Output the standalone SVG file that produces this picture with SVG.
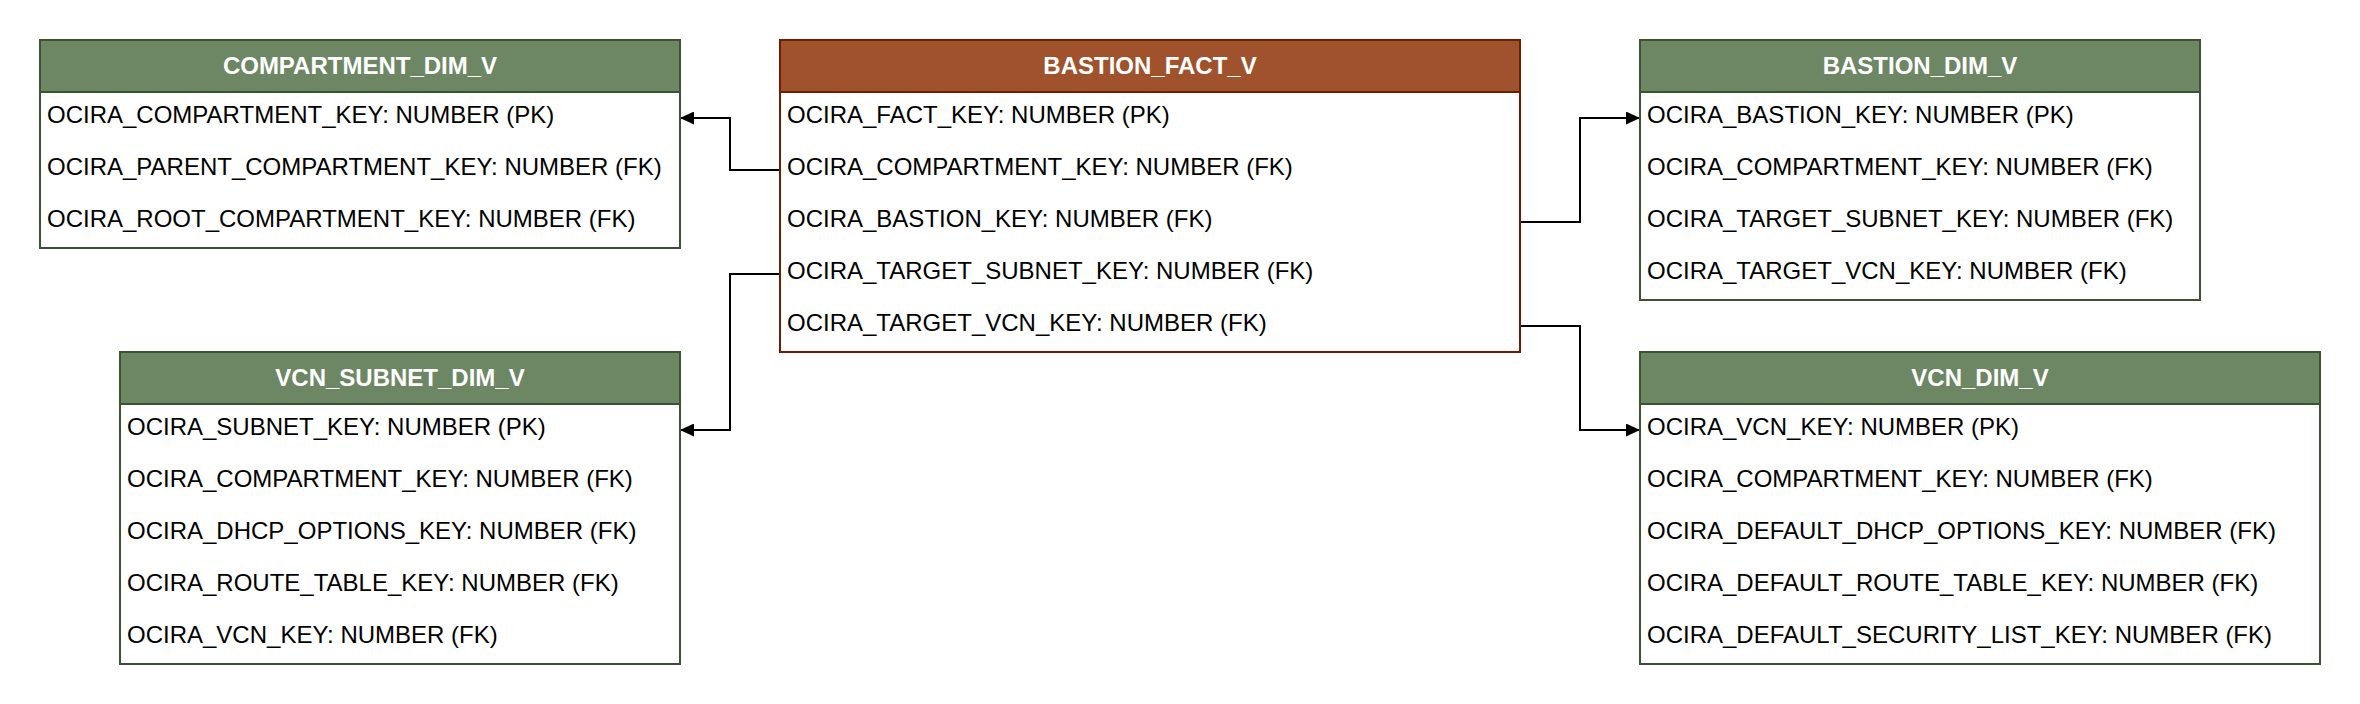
<svg xmlns="http://www.w3.org/2000/svg" width="2360" height="704" viewBox="0 0 2360 704">
<style>
.g .body{fill:#ffffff;stroke:#3A5431;stroke-width:2}
.g .head{fill:#6D8764;stroke:#3A5431;stroke-width:2}
.b .body{fill:#ffffff;stroke:#6D1F00;stroke-width:2}
.b .head{fill:#A0522D;stroke:#6D1F00;stroke-width:2}
.title{font-family:"Liberation Sans",Arial,sans-serif;font-size:24px;font-weight:bold;fill:#ffffff;text-anchor:middle}
.row{font-family:"Liberation Sans",Arial,sans-serif;font-size:24px;fill:#000000}
.conn{fill:none;stroke:#000000;stroke-width:2}
</style>
<defs>
<marker id="arr" viewBox="0 0 14 13" refX="14" refY="6.5" markerWidth="14" markerHeight="13" markerUnits="userSpaceOnUse" orient="auto">
<path d="M0,0 L14,6.5 L0,13 Z" fill="#000000"/>
</marker>
</defs>
<rect width="2360" height="704" fill="#ffffff"/>

<g id="connectors">
<path class="conn" d="M780,170 H730 V118 H680" marker-end="url(#arr)"/>
<path class="conn" d="M780,274 H730 V430 H680" marker-end="url(#arr)"/>
<path class="conn" d="M1520,222 H1580 V118 H1640" marker-end="url(#arr)"/>
<path class="conn" d="M1520,326 H1580 V430 H1640" marker-end="url(#arr)"/>
</g>

<g id="COMPARTMENT_DIM_V" class="g">
<rect class="body" x="40" y="40" width="640" height="208"/>
<rect class="head" x="40" y="40" width="640" height="52"/>
<text class="title" x="360" y="74">COMPARTMENT_DIM_V</text>
<text class="row" x="47" y="123">OCIRA_COMPARTMENT_KEY: NUMBER (PK)</text>
<text class="row" x="47" y="175">OCIRA_PARENT_COMPARTMENT_KEY: NUMBER (FK)</text>
<text class="row" x="47" y="227">OCIRA_ROOT_COMPARTMENT_KEY: NUMBER (FK)</text>
</g>

<g id="VCN_SUBNET_DIM_V" class="g">
<rect class="body" x="120" y="352" width="560" height="312"/>
<rect class="head" x="120" y="352" width="560" height="52"/>
<text class="title" x="400" y="386">VCN_SUBNET_DIM_V</text>
<text class="row" x="127" y="435">OCIRA_SUBNET_KEY: NUMBER (PK)</text>
<text class="row" x="127" y="487">OCIRA_COMPARTMENT_KEY: NUMBER (FK)</text>
<text class="row" x="127" y="539">OCIRA_DHCP_OPTIONS_KEY: NUMBER (FK)</text>
<text class="row" x="127" y="591">OCIRA_ROUTE_TABLE_KEY: NUMBER (FK)</text>
<text class="row" x="127" y="643">OCIRA_VCN_KEY: NUMBER (FK)</text>
</g>

<g id="BASTION_FACT_V" class="b">
<rect class="body" x="780" y="40" width="740" height="312"/>
<rect class="head" x="780" y="40" width="740" height="52"/>
<text class="title" x="1150" y="74">BASTION_FACT_V</text>
<text class="row" x="787" y="123">OCIRA_FACT_KEY: NUMBER (PK)</text>
<text class="row" x="787" y="175">OCIRA_COMPARTMENT_KEY: NUMBER (FK)</text>
<text class="row" x="787" y="227">OCIRA_BASTION_KEY: NUMBER (FK)</text>
<text class="row" x="787" y="279">OCIRA_TARGET_SUBNET_KEY: NUMBER (FK)</text>
<text class="row" x="787" y="331">OCIRA_TARGET_VCN_KEY: NUMBER (FK)</text>
</g>

<g id="BASTION_DIM_V" class="g">
<rect class="body" x="1640" y="40" width="560" height="260"/>
<rect class="head" x="1640" y="40" width="560" height="52"/>
<text class="title" x="1920" y="74">BASTION_DIM_V</text>
<text class="row" x="1647" y="123">OCIRA_BASTION_KEY: NUMBER (PK)</text>
<text class="row" x="1647" y="175">OCIRA_COMPARTMENT_KEY: NUMBER (FK)</text>
<text class="row" x="1647" y="227">OCIRA_TARGET_SUBNET_KEY: NUMBER (FK)</text>
<text class="row" x="1647" y="279">OCIRA_TARGET_VCN_KEY: NUMBER (FK)</text>
</g>

<g id="VCN_DIM_V" class="g">
<rect class="body" x="1640" y="352" width="680" height="312"/>
<rect class="head" x="1640" y="352" width="680" height="52"/>
<text class="title" x="1980" y="386">VCN_DIM_V</text>
<text class="row" x="1647" y="435">OCIRA_VCN_KEY: NUMBER (PK)</text>
<text class="row" x="1647" y="487">OCIRA_COMPARTMENT_KEY: NUMBER (FK)</text>
<text class="row" x="1647" y="539">OCIRA_DEFAULT_DHCP_OPTIONS_KEY: NUMBER (FK)</text>
<text class="row" x="1647" y="591">OCIRA_DEFAULT_ROUTE_TABLE_KEY: NUMBER (FK)</text>
<text class="row" x="1647" y="643">OCIRA_DEFAULT_SECURITY_LIST_KEY: NUMBER (FK)</text>
</g>
</svg>
